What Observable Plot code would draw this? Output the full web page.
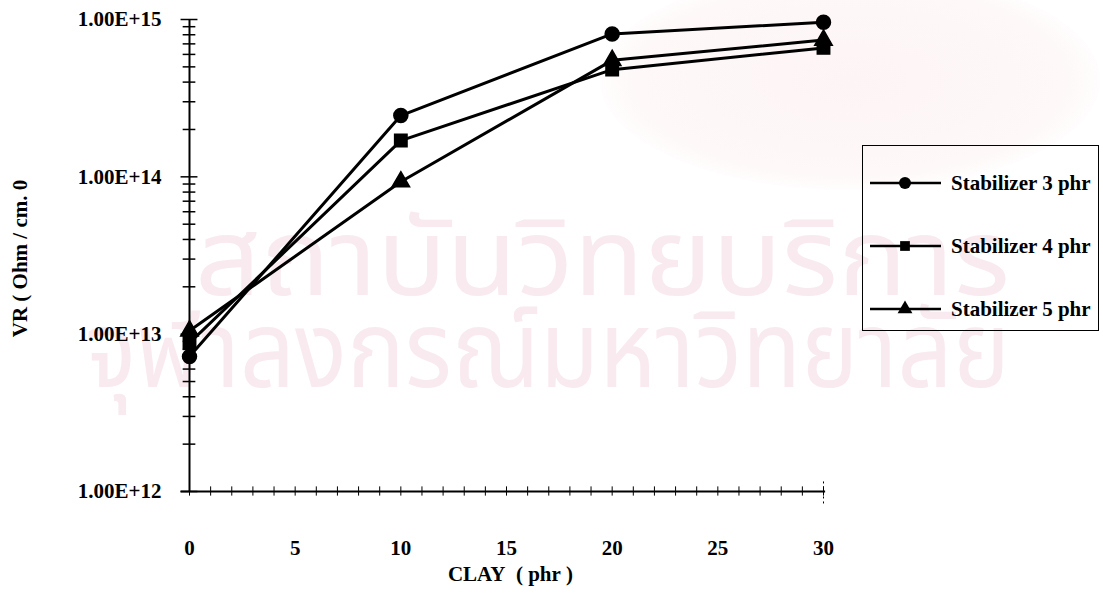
<!DOCTYPE html>
<html><head><meta charset="utf-8">
<script src="https://cdn.jsdelivr.net/npm/d3@7"></script>
<script src="https://cdn.jsdelivr.net/npm/@observablehq/plot@0.6"></script>
<style>
body{margin:0;background:#fff;}
#wrap{position:relative;width:1103px;height:603px;overflow:hidden;font-family:"Liberation Serif","Times New Roman",serif;}
#wm{position:absolute;left:0;top:0;width:1103px;height:603px;color:#f9eaef;font-family:"Noto Sans Thai","Noto Sans",sans-serif;pointer-events:none;}
#wm div{position:absolute;white-space:nowrap;font-size:108px;line-height:1;transform-origin:0 0;}
#emblem{position:absolute;left:600px;top:-30px;width:500px;height:220px;border-radius:50%;background:radial-gradient(ellipse at center,#fdf4f5 0%,#fef8f8 60%,rgba(255,255,255,0) 75%);}
#chart{position:absolute;left:0;top:0;}
#legend{position:absolute;left:862px;top:145px;width:237px;height:186px;border:1.5px solid #000;box-sizing:border-box;background:transparent;}
#legend .row{position:absolute;left:0;height:30px;display:flex;align-items:center;}
#legend .row span{font-weight:bold;font-size:21px;margin-left:8px;color:#000;}
</style></head><body><div id="wrap"><div id="emblem"></div><div id="wm"></div><div id="chart"></div><div id="legend"></div></div>
<script>
const clay = [0, 10, 20, 30];
const seriesNames = ["Stabilizer 3 phr", "Stabilizer 4 phr", "Stabilizer 5 phr"];
const vr3 = [7.2e12, 2.45e14, 8.1e14, 9.6e14];
const vr4 = [8.8e12, 1.7e14, 4.8e14, 6.6e14];
const vr5 = [1.05e13, 9.3e13, 5.5e14, 7.4e14];
const symbols = ["circle", "square", "triangle"];
const radii = [7, 7, 6.5];
const xTicks = [0, 5, 10, 15, 20, 25, 30];
const yTicks = [1e12, 1e13, 1e14, 1e15];
const yTickLabels = ["1.00E+12", "1.00E+13", "1.00E+14", "1.00E+15"];
const xLabel = "CLAY\u00a0\u00a0(\u00a0phr\u00a0)";
const yLabel = "VR ( Ohm / cm. 0";
const watermark = ["สถาบันวิทยบริการ", "จุฬาลงกรณ์มหาวิทยาลัย"];

const data = [];
[vr3, vr4, vr5].forEach((arr, i) => arr.forEach((v, j) => data.push({series: seriesNames[i], clay: clay[j], vr: v})));
const minorY = [];
for (let e = 12; e < 15; e++) for (let m = 2; m <= 9; m++) minorY.push(m * Math.pow(10, e));
const minorX = d3.range(0, 31);
const yLab = yTicks.map((v, i) => ({v, label: yTickLabels[i]}));

const font = "Liberation Serif, Times New Roman, serif";
const plot = Plot.plot({
  width: 1103, height: 603,
  marginLeft: 189, marginRight: 280, marginTop: 19, marginBottom: 112,
  x: {domain: [0, 30], axis: null},
  y: {type: "log", domain: [1e12, 1e15], axis: null},
  style: {fontFamily: font, background: "transparent", color: "#000", overflow: "visible"},
  marks: [
    Plot.ruleX([0], {y1: 1e12, y2: 1e15, stroke: "#000", strokeWidth: 2}),
    Plot.ruleY([1e12], {x1: -0.4, x2: 30.1, stroke: "#000", strokeWidth: 2}),
    Plot.ruleY(minorY, {x1: -0.3, x2: 0.3, stroke: "#000", strokeWidth: 1.5}),
    Plot.ruleY(yTicks, {x1: -0.4, x2: 0.4, stroke: "#000", strokeWidth: 1.5}),
    Plot.ruleX(minorX, {y1: 1e12 / 1.07, y2: 1e12 * 1.07, stroke: "#000", strokeWidth: 1}),
    Plot.ruleX([30], {y1: 1e12 / 1.2, y2: 1e12 * 1.2, stroke: "#000", strokeWidth: 1, strokeDasharray: "2,3"}),
    Plot.text(yLab, {x: 0, y: "v", text: "label", textAnchor: "end", dx: -28, fontSize: 21, fontWeight: "bold", fontFamily: font}),
    Plot.text(xTicks, {x: d => d, y: 1e12, dy: 57, text: d => String(d), fontSize: 21, fontWeight: "bold", fontFamily: font}),
    Plot.text([xLabel], {frameAnchor: "bottom", dx: 4, dy: 89, text: d => d, textAnchor: "middle", fontSize: 21, fontWeight: "bold", fontFamily: font}),
    Plot.text([yLabel], {frameAnchor: "left", dx: -169, dy: 3, rotate: -90, text: d => d, textAnchor: "middle", fontSize: 21, fontWeight: "bold", fontFamily: font}),
    Plot.line(data, {x: "clay", y: "vr", z: "series", stroke: "#000", strokeWidth: 3}),
    ...seriesNames.map((s, i) => Plot.dot(data, {filter: d => d.series === s, x: "clay", y: "vr", symbol: () => symbols[i], r: radii[i], fill: "#000", stroke: "#000"}))
  ]
});
document.getElementById("chart").appendChild(plot);

// watermark (faint background text)
const wm = document.getElementById("wm");
const wpos = [[195, 208, 815], [85, 300, 925]];
watermark.forEach((t, i) => {
  const d = document.createElement("div");
  d.textContent = t;
  d.style.left = wpos[i][0] + "px";
  d.style.top = wpos[i][1] + "px";
  wm.appendChild(d);
  const w = d.getBoundingClientRect().width;
  d.style.transform = `scaleX(${wpos[i][2] / w})`;
});

// legend
const legend = document.getElementById("legend");
const rowTops = [22, 85, 148];
const legendR = [6, 5.5, 5.5];
seriesNames.forEach((s, i) => {
  const row = document.createElement("div");
  row.className = "row";
  row.style.top = rowTops[i] + "px";
  const svg = d3.create("svg").attr("width", 80).attr("height", 30);
  svg.append("line").attr("x1", 7).attr("x2", 78).attr("y1", 15).attr("y2", 15).attr("stroke", "#000").attr("stroke-width", 2.5);
  const sym = [d3.symbolCircle, d3.symbolSquare, d3.symbolTriangle][i];
  svg.append("path").attr("d", d3.symbol(sym, Math.PI * legendR[i] * legendR[i])()).attr("transform", "translate(42,15)").attr("fill", "#000");
  row.appendChild(svg.node());
  const sp = document.createElement("span");
  sp.textContent = s;
  row.appendChild(sp);
  legend.appendChild(row);
});
</script></body></html>
